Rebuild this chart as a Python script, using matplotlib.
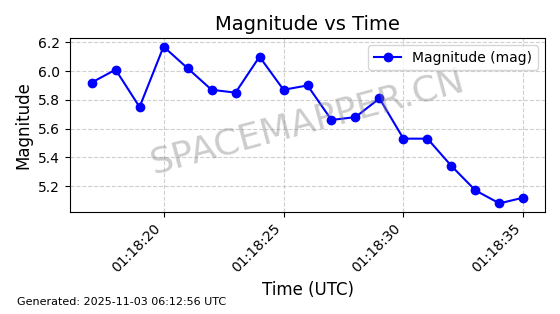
import matplotlib
matplotlib.use("Agg")
import matplotlib.pyplot as plt
import matplotlib.dates as mdates
import pandas as pd

times = pd.date_range("2025-11-03 01:18:17", periods=19, freq="1s")
magnitudes = [5.92, 6.01, 5.75, 6.17, 6.02, 5.87, 5.85, 6.10, 5.87, 5.90,
              5.66, 5.68, 5.81, 5.53, 5.53, 5.34, 5.17, 5.08, 5.12]
title = "Magnitude vs Time"
footer = "Generated: 2025-11-03 06:12:56 UTC"

fig = plt.figure(figsize=(5.6, 3.14), dpi=100)
ax = fig.add_axes([70/560, 1 - 212/314, 475/560, 174/314])
ax.plot(times, magnitudes, color="blue", marker="o", markersize=6,
        linewidth=1.5, label="Magnitude (mag)")
ax.set_title(title, fontsize=14)
ax.set_xlabel("Time (UTC)", fontsize=12)
ax.set_ylabel("Magnitude", fontsize=12)
ax.grid(True, linestyle="--", alpha=0.6)
ax.xaxis.set_major_locator(mdates.SecondLocator(bysecond=[0, 5, 10, 15, 20, 25, 30, 35, 40, 45, 50, 55]))
ax.xaxis.set_major_formatter(mdates.DateFormatter("%H:%M:%S"))
plt.setp(ax.get_xticklabels(), rotation=45, ha="right")
ax.set_yticks([5.2, 5.4, 5.6, 5.8, 6.0, 6.2])
ax.set_ylim(5.02, 6.23)
ax.legend(loc="upper right")
ax.text(0.5, 0.52, "SPACEMAPPER.CN", transform=ax.transAxes, fontsize=26,
        color="gray", alpha=0.4, rotation=15, ha="center", va="center")
fig.text(17/560, 1 - 305/314, footer, fontsize=8, ha="left", va="baseline")
fig.savefig("out.png", dpi=100)
